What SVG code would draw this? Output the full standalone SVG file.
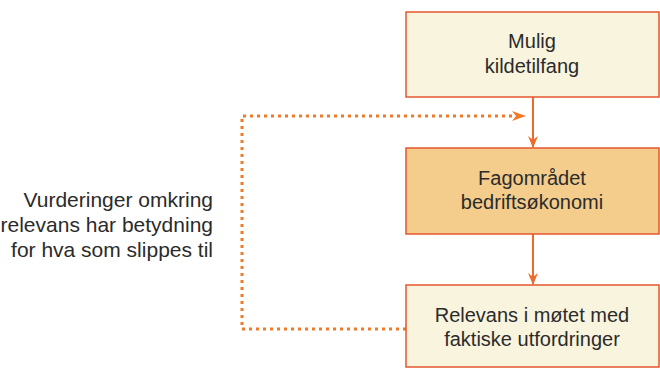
<svg xmlns="http://www.w3.org/2000/svg" width="660" height="369" viewBox="0 0 660 369">
<style>
.box{stroke:#e4562e;stroke-width:1.5}
.t{font-family:"Liberation Sans",Arial,sans-serif;font-size:20px;fill:#2b2b2b;text-anchor:middle}
.lt{font-family:"Liberation Sans",Arial,sans-serif;font-size:21px;fill:#2b2b2b;text-anchor:end}
.c{stroke:#ee6a2a;stroke-width:2;fill:none}
.d{stroke:#f07a2a;stroke-width:3;fill:none;stroke-dasharray:3 4}
</style>
<defs>
<marker id="ah" viewBox="0 0 12 12" refX="11" refY="6" markerWidth="12" markerHeight="12" markerUnits="userSpaceOnUse" orient="auto">
<path d="M0,1 L12,6 L0,11 L4,6 Z" fill="#ee6a2a"/>
</marker>
</defs>
<rect width="660" height="369" fill="#ffffff"/>
<g id="connectors">
<line class="c" x1="533" y1="97" x2="533" y2="147" marker-end="url(#ah)"/>
<line class="c" x1="533" y1="234" x2="533" y2="284" marker-end="url(#ah)"/>
<path class="d" d="M406,329 H242 V116 H512"/>
<path d="M512,111 L526,116 L512,121 L516,116 Z" fill="#f07a2a"/>
</g>
<g id="node1">
<rect class="box" x="406" y="12" width="253" height="85" fill="#f9f4de"/>
<text class="t" x="532" y="48">Mulig</text>
<text class="t" x="532" y="73">kildetilfang</text>
</g>
<g id="node2">
<rect class="box" x="406" y="148" width="253" height="86" fill="#f4cd8c"/>
<text class="t" x="532" y="185">Fagområdet</text>
<text class="t" x="532" y="209">bedriftsøkonomi</text>
</g>
<g id="node3">
<rect class="box" x="406" y="285" width="253" height="82" fill="#f9f4de"/>
<text class="t" x="532" y="322">Relevans i møtet med</text>
<text class="t" x="532" y="346">faktiske utfordringer</text>
</g>
<g id="label">
<text class="lt" x="213" y="207">Vurderinger omkring</text>
<text class="lt" x="213" y="232">relevans har betydning</text>
<text class="lt" x="213" y="257">for hva som slippes til</text>
</g>
</svg>
